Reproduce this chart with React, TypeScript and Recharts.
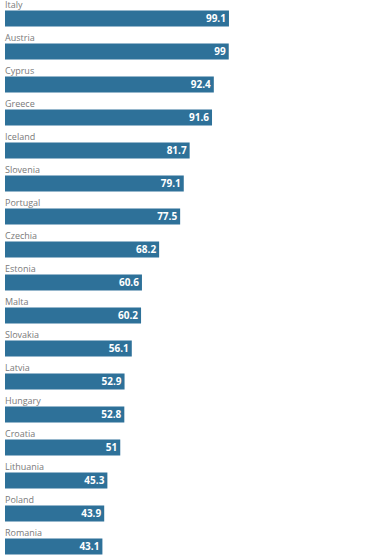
import { BarChart, Bar, XAxis, YAxis, LabelList } from 'recharts';

const countries = [
  'Italy', 'Austria', 'Cyprus', 'Greece', 'Iceland', 'Slovenia', 'Portugal', 'Czechia', 'Estonia',
  'Malta', 'Slovakia', 'Latvia', 'Hungary', 'Croatia', 'Lithuania', 'Poland', 'Romania',
];
const values = [99.1, 99, 92.4, 91.6, 81.7, 79.1, 77.5, 68.2, 60.6, 60.2, 56.1, 52.9, 52.8, 51, 45.3, 43.9, 43.1];

const data = countries.map((name, i) => ({ name, value: values[i] }));

const NameLabel = (props: any) => {
  const { x, y, value } = props;
  return (
    <text x={x} y={y - 2.5} fill="#7a7a7a" fontSize={9} fontFamily="'Open Sans', sans-serif">
      {value}
    </text>
  );
};

const ValueLabel = (props: any) => {
  const { x, y, width, height, value } = props;
  return (
    <text
      x={x + width - 3}
      y={y + height / 2}
      dy="0.35em"
      textAnchor="end"
      fill="#ffffff"
      fontSize={10}
      fontWeight="bold"
      fontFamily="'Open Sans', sans-serif"
    >
      {value}
    </text>
  );
};

export default function App() {
  return (
    <div style={{ position: 'absolute', left: 0, top: 0, width: 392, height: 560, overflow: 'hidden', background: '#fff' }}>
      <BarChart
        width={392}
        height={563}
        data={data}
        layout="vertical"
        margin={{ top: 1.5, right: 161, bottom: 0.5, left: 5 }}
        barSize={16}
      >
        <XAxis type="number" domain={[0, 100]} hide />
        <YAxis type="category" dataKey="name" hide />
        <Bar dataKey="value" fill="#2e7199" isAnimationActive={false}>
          <LabelList dataKey="name" content={NameLabel} />
          <LabelList dataKey="value" content={ValueLabel} />
        </Bar>
      </BarChart>
    </div>
  );
}
